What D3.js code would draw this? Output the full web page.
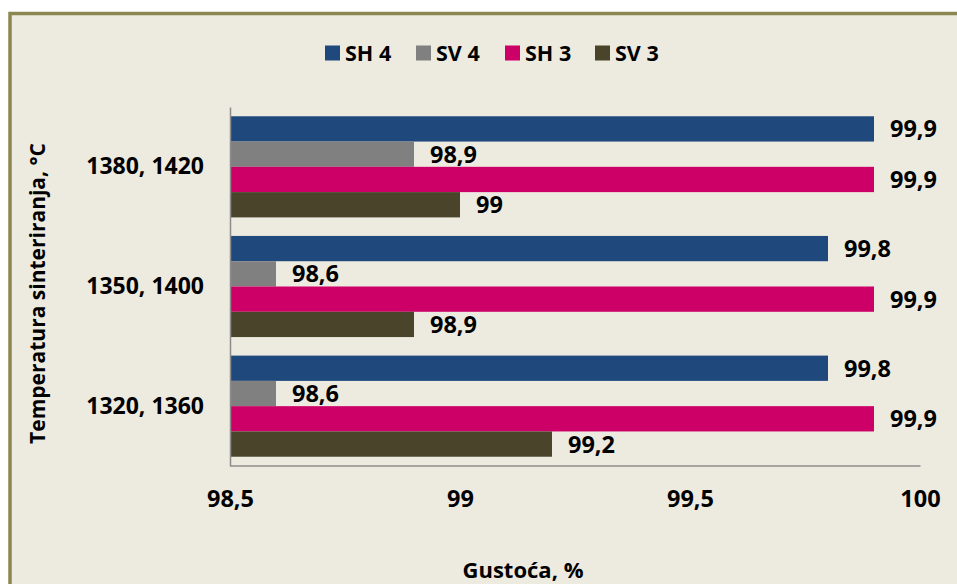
<!DOCTYPE html>
<html>
<head>
<meta charset="utf-8">
<script src="https://cdn.jsdelivr.net/npm/d3@7"></script>
<style>
  html, body { margin: 0; padding: 0; background: #ffffff; }
  svg { display: block; }
  text { font-family: "Open Sans", Lato, sans-serif; font-weight: 700; fill: #000; }
</style>
</head>
<body>
<svg id="chart" width="957" height="584"></svg>
<script>
// Sintering temperature groups (top to bottom) and density series
const categories = ["1380, 1420", "1350, 1400", "1320, 1360"];
const seriesNames = ["SH 4", "SV 4", "SH 3", "SV 3"];
const sh4 = [99.9, 99.8, 99.8];
const sv4 = [98.9, 98.6, 98.6];
const sh3 = [99.9, 99.9, 99.9];
const sv3 = [99.0, 98.9, 99.2];
const xTicks = [98.5, 99, 99.5, 100];
const seriesColors = ["#1f497d", "#808080", "#cc0066", "#4a452a"];

const seriesValues = [sh4, sv4, sh3, sv3];
const rows = [];
categories.forEach((c, i) => {
  seriesNames.forEach((s, j) => rows.push({ cat: c, series: s, value: seriesValues[j][i], color: seriesColors[j] }));
});

const svg = d3.select("#chart");
const fmt = v => String(v).replace(".", ",");

// chart frame (extends past the right/bottom edge)
svg.append("rect")
  .attr("x", 10).attr("y", 13.5)
  .attr("width", 1100).attr("height", 1000)
  .attr("fill", "#edeae0")
  .attr("stroke", "#8c8650").attr("stroke-width", 3.5);

const x = d3.scaleLinear().domain([98.5, 100]).range([230, 920]);
const y = d3.scaleBand().domain(categories).range([107, 466])
  .paddingInner(0.155).paddingOuter(0.0775);
const ySub = d3.scaleBand().domain(seriesNames).range([0, y.bandwidth()]);

// bars
svg.append("g").selectAll("rect").data(rows).join("rect")
  .attr("x", x(98.5))
  .attr("y", d => y(d.cat) + ySub(d.series))
  .attr("width", d => x(d.value) - x(98.5))
  .attr("height", ySub.bandwidth())
  .attr("fill", d => d.color);

// value labels
svg.append("g").selectAll("text").data(rows).join("text")
  .attr("x", d => x(d.value) + 16)
  .attr("y", d => y(d.cat) + ySub(d.series) + ySub.bandwidth() / 2)
  .attr("dy", "0.36em")
  .style("font-size", "23.5px")
  .text(d => fmt(d.value));

// x axis
const xAxis = svg.append("g").attr("transform", "translate(0,465.5)")
  .call(d3.axisBottom(x).tickValues(xTicks).tickSize(0).tickPadding(25).tickFormat(fmt));
xAxis.select(".domain").attr("stroke", "#8c8c8c").attr("stroke-width", 1.5);
xAxis.selectAll("text").style("font-size", "23.5px").attr("font-family", null);

// y axis
const yAxis = svg.append("g").attr("transform", "translate(230,0)")
  .call(d3.axisLeft(y).tickSize(0).tickPadding(26));
yAxis.select(".domain").attr("stroke", "#8c8c8c").attr("stroke-width", 1.5);
yAxis.selectAll("text").style("font-size", "23px").attr("font-family", null);

// axis titles
svg.append("text")
  .attr("x", 523).attr("y", 578)
  .attr("text-anchor", "middle")
  .style("font-size", "22px")
  .text("Gustoća, %");

svg.append("text")
  .attr("transform", "translate(45,293.5) rotate(-90)")
  .attr("text-anchor", "middle")
  .style("font-size", "21px")
  .text("Temperatura sinteriranja, °C");

// legend
const legendX = [325, 416, 505, 595];
const legend = svg.append("g").selectAll("g").data(seriesNames).join("g")
  .attr("transform", (d, i) => `translate(${legendX[i]},45.5)`);
legend.append("rect").attr("width", 15).attr("height", 15)
  .attr("fill", (d, i) => seriesColors[i]);
legend.append("text").attr("x", 20).attr("y", 15.5)
  .style("font-size", "21.5px")
  .text(d => d);
</script>
</body>
</html>
